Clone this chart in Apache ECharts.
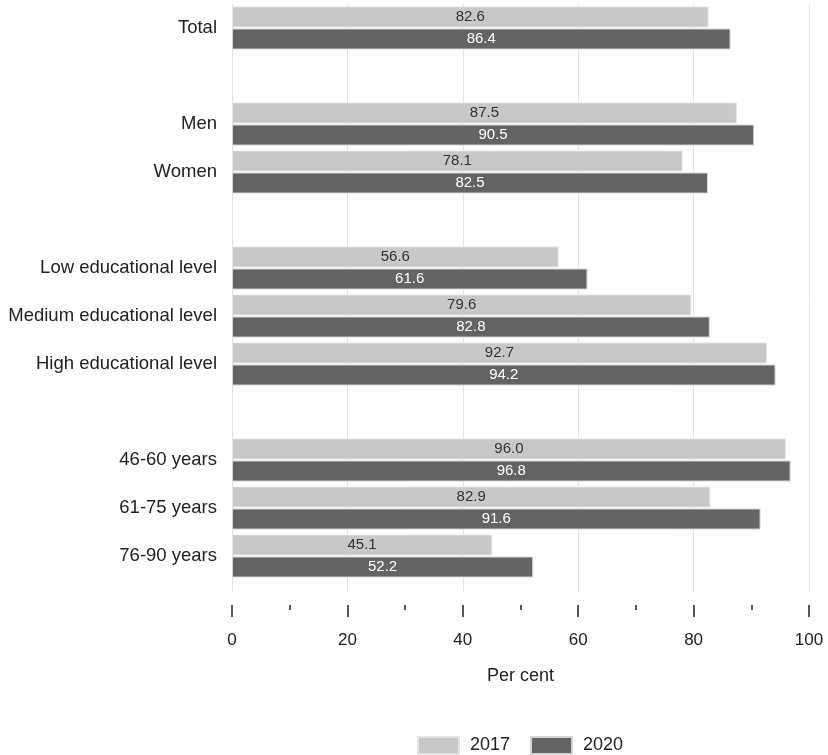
<!DOCTYPE html>
<html>
<head>
<meta charset="utf-8">
<script src="https://cdn.jsdelivr.net/npm/echarts@6/dist/echarts.min.js"></script>
<style>
  html, body { margin: 0; padding: 0; background: #fff; }
  #chart { width: 828px; height: 755px; }
</style>
</head>
<body>
<div id="chart"></div>
<script>
// Row labels; blank entries are spacer rows between groups
const categories = [
  'Total', ' ',
  'Men', 'Women', '  ',
  'Low educational level', 'Medium educational level', 'High educational level', '   ',
  '46-60 years', '61-75 years', '76-90 years'
];
const values2017 = [82.6, null, 87.5, 78.1, null, 56.6, 79.6, 92.7, null, 96.0, 82.9, 45.1];
const values2020 = [86.4, null, 90.5, 82.5, null, 61.6, 82.8, 94.2, null, 96.8, 91.6, 52.2];
const seriesNames = ['2017', '2020'];
const axisName = 'Per cent';

const FONT = '"Liberation Sans", Arial, sans-serif';
const LIGHT = '#c8c8c8';
const DARK = '#646464';

const chart = echarts.init(document.getElementById('chart'), null, { renderer: 'canvas' });

function barSeries(name, values, color, labelColor, borderColor) {
  return {
    name: name,
    type: 'bar',
    xAxisIndex: 0,
    yAxisIndex: 0,
    data: values.map(v => (v === null ? '-' : v)),
    barWidth: 21,
    barGap: '5%',
    itemStyle: { color: color, borderColor: borderColor, borderWidth: 1 },
    label: {
      show: true,
      position: 'inside',
      color: labelColor,
      fontFamily: FONT,
      fontSize: 15,
      fontWeight: 'normal',
      textBorderWidth: 0,
      formatter: p => Number(p.value).toFixed(1)
    },
    emphasis: { disabled: true },
    z: 3
  };
}

// Three stacked grids share the same horizontal extent:
// 0 holds the bars, 1 carries the vertical grid lines, 2 the ticks and labels below them.
const gridLeft = 232;
const gridRight = 19;

chart.setOption({
  animation: false,
  backgroundColor: '#fff',
  textStyle: { fontFamily: FONT },
  grid: [
    { left: gridLeft, right: gridRight, top: 4, height: 576 },
    { left: gridLeft, right: gridRight, top: 4, height: 589 },
    { left: gridLeft, right: gridRight, top: 4, height: 601 }
  ],
  xAxis: [
    { gridIndex: 0, type: 'value', min: 0, max: 100, show: false },
    {
      gridIndex: 1,
      type: 'value',
      min: 0,
      max: 100,
      interval: 20,
      axisLine: { show: false },
      axisTick: { show: false },
      axisLabel: { show: false },
      splitLine: { show: true, lineStyle: { color: '#e4e4e4', width: 1 } }
    },
    {
      gridIndex: 2,
      type: 'value',
      min: 0,
      max: 100,
      interval: 20,
      axisLine: { show: false },
      axisTick: { show: true, length: 12, lineStyle: { color: '#222', width: 1.5 } },
      minorTick: { show: true, splitNumber: 2, length: 5, lineStyle: { color: '#222', width: 1.5 } },
      splitLine: { show: false },
      axisLabel: { margin: 27, color: '#222', fontSize: 17, fontFamily: FONT },
      name: axisName,
      nameLocation: 'middle',
      nameGap: 62,
      nameTextStyle: { color: '#222', fontSize: 18, fontFamily: FONT }
    }
  ],
  yAxis: [
    {
      gridIndex: 0,
      type: 'category',
      inverse: true,
      data: categories,
      axisLine: { show: false },
      axisTick: { show: false },
      splitLine: { show: false },
      axisLabel: { margin: 15, color: '#222', fontSize: 18.5, fontFamily: FONT }
    },
    { gridIndex: 1, type: 'value', show: false },
    { gridIndex: 2, type: 'value', show: false }
  ],
  legend: {
    data: seriesNames,
    left: 417,
    top: 736,
    padding: 0,
    itemWidth: 41,
    itemHeight: 17,
    itemGap: 20,
    icon: 'rect',
    textStyle: { color: '#222', fontSize: 18, fontFamily: FONT, padding: [0, 0, 0, 6] }
  },
  series: [
    barSeries(seriesNames[0], values2017, LIGHT, '#333', '#e4e4e4'),
    barSeries(seriesNames[1], values2020, DARK, '#ffffff', '#d4d4d4')
  ]
});
</script>
</body>
</html>
